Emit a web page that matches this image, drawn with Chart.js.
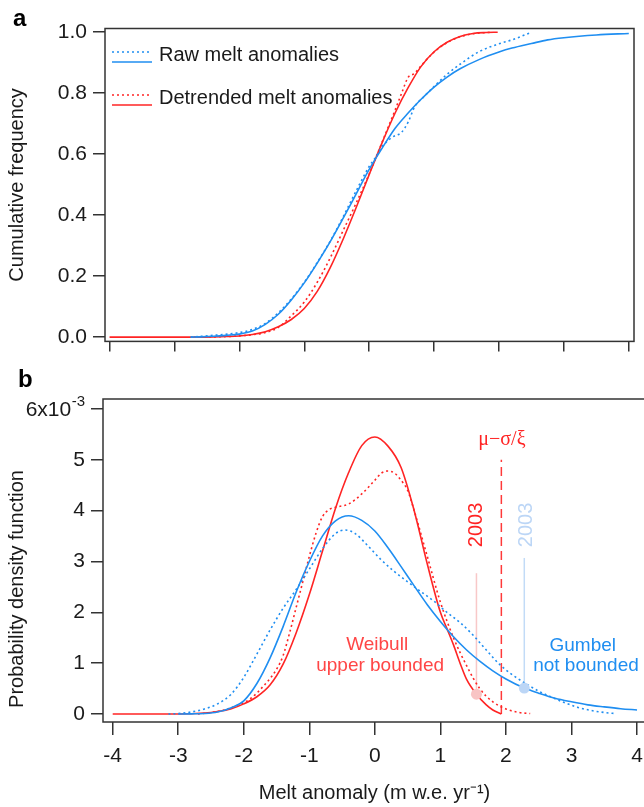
<!DOCTYPE html>
<html lang="en">
<head>
<meta charset="UTF-8" />
<title>Melt anomaly distributions</title>
<script src="https://cdn.jsdelivr.net/npm/chart.js"></script>
<style>
  html, body { margin: 0; padding: 0; background: #fff; overflow: hidden; }
  body { width: 644px; height: 807px; position: relative; }
  #cdfChart { position: absolute; left: 0; top: 0; }
  #pdfChart { position: absolute; left: 0; top: 360px; }
</style>
</head>
<body>

<canvas id="cdfChart" width="644" height="360"></canvas>
<canvas id="pdfChart" width="660" height="447"></canvas>

<script>
  const SANS = "'Liberation Sans', Arial, Helvetica, sans-serif";
  const SERIF = "'Liberation Serif', 'Times New Roman', serif";
  const INK = '#1a1a1a';
  const FRAME = '#333333';
  const BLUE = '#1f8ef1';
  const RED = '#ff2424';

  const xTicks = [-4, -3, -2, -1, 0, 1, 2, 3, 4];

  // ---- panel a : cumulative frequency ----
  const cdfTicks = [0, 0.2, 0.4, 0.6, 0.8, 1.0];
  const legendLabels = ['Raw melt anomalies', 'Detrended melt anomalies'];

  const rawFitCdfX = [-2.75, -2.6, -2.4, -2.2, -2.0, -1.8, -1.6, -1.4, -1.2, -1.0, -0.8, -0.6, -0.4, -0.2, 0, 0.2, 0.4, 0.6, 0.8, 1.0, 1.2, 1.4, 1.7, 2.0, 2.2, 2.5, 2.75, 3.0, 3.5, 4.0];
  const rawFitCdfY = [0, 0.001, 0.003, 0.006, 0.01, 0.02, 0.042, 0.075, 0.122, 0.178, 0.243, 0.313, 0.39, 0.47, 0.55, 0.62, 0.685, 0.735, 0.78, 0.82, 0.853, 0.88, 0.911, 0.935, 0.948, 0.963, 0.975, 0.982, 0.991, 0.996];

  const rawObsCdfX = [-2.75, -2.4, -2.0, -1.8, -1.6, -1.4, -1.2, -1.0, -0.8, -0.6, -0.4, -0.2, 0, 0.1, 0.2, 0.35, 0.5, 0.6, 0.7, 0.85, 1.0, 1.2, 1.4, 1.7, 2.0, 2.2, 2.5];
  const rawObsCdfY = [0, 0.006, 0.015, 0.025, 0.045, 0.08, 0.125, 0.18, 0.245, 0.315, 0.395, 0.48, 0.56, 0.59, 0.625, 0.655, 0.672, 0.705, 0.755, 0.79, 0.822, 0.862, 0.895, 0.937, 0.962, 0.975, 1.0];

  const detFitCdfX = [-4, -2.8, -2.4, -2.2, -2.0, -1.8, -1.6, -1.4, -1.2, -1.0, -0.8, -0.6, -0.4, -0.2, 0, 0.2, 0.4, 0.6, 0.8, 1.0, 1.2, 1.4, 1.6, 1.8, 1.98];
  const detFitCdfY = [0, 0, 0.001, 0.002, 0.004, 0.009, 0.018, 0.034, 0.058, 0.094, 0.15, 0.228, 0.322, 0.425, 0.533, 0.638, 0.735, 0.818, 0.888, 0.936, 0.967, 0.986, 0.996, 0.999, 1.0];

  const detObsCdfX = [-2.7, -2.2, -1.8, -1.6, -1.4, -1.2, -1.0, -0.8, -0.6, -0.4, -0.2, 0, 0.2, 0.4, 0.5, 0.6, 0.7, 0.8, 1.0, 1.2, 1.4, 1.6, 1.9];
  const detObsCdfY = [0, 0.002, 0.008, 0.015, 0.032, 0.07, 0.115, 0.18, 0.26, 0.35, 0.44, 0.535, 0.64, 0.745, 0.8, 0.852, 0.865, 0.89, 0.935, 0.966, 0.985, 0.995, 1.0];

  // ---- panel b : probability density (x10^-3) ----
  const pdfTicks = [0, 1, 2, 3, 4, 5, 6];

  const gumbelPdfX = [-3.0, -2.8, -2.6, -2.4, -2.2, -2.0, -1.8, -1.6, -1.4, -1.2, -1.0, -0.8, -0.6, -0.4, -0.2, 0, 0.2, 0.4, 0.6, 0.8, 1.0, 1.2, 1.4, 1.6, 1.8, 2.0, 2.28, 2.5, 2.75, 3.0, 3.25, 3.5, 3.75, 4.0];
  const gumbelPdfY = [0, 0.003, 0.01, 0.04, 0.12, 0.26, 0.6, 1.1, 1.72, 2.4, 3.0, 3.5, 3.8, 3.9, 3.81, 3.6, 3.27, 2.9, 2.52, 2.15, 1.82, 1.52, 1.26, 1.04, 0.85, 0.69, 0.51, 0.41, 0.31, 0.24, 0.18, 0.14, 0.105, 0.08];

  const rawKdeX = [-3.15, -3.0, -2.8, -2.6, -2.4, -2.2, -2.0, -1.8, -1.6, -1.4, -1.2, -1.0, -0.8, -0.6, -0.45, -0.3, -0.1, 0.1, 0.3, 0.5, 0.7, 0.9, 1.1, 1.3, 1.5, 1.7, 1.9, 2.1, 2.3, 2.5, 2.7, 2.9, 3.1, 3.3, 3.5, 3.67];
  const rawKdeY = [0, 0.01, 0.04, 0.1, 0.2, 0.38, 0.72, 1.18, 1.65, 2.08, 2.45, 2.85, 3.25, 3.55, 3.62, 3.55, 3.3, 3.03, 2.8, 2.6, 2.41, 2.22, 2.0, 1.8, 1.55, 1.26, 0.98, 0.77, 0.6, 0.45, 0.33, 0.22, 0.13, 0.07, 0.03, 0.01];

  const weibullPdfX = [-4, -3.0, -2.6, -2.4, -2.2, -2.0, -1.8, -1.6, -1.4, -1.2, -1.0, -0.8, -0.6, -0.4, -0.2, 0, 0.2, 0.4, 0.6, 0.8, 1.0, 1.1, 1.2, 1.3, 1.4, 1.55, 1.7, 1.8, 1.93];
  const weibullPdfY = [0, 0, 0.02, 0.05, 0.1, 0.2, 0.34, 0.57, 0.98, 1.6, 2.35, 3.2, 4.05, 4.75, 5.28, 5.45, 5.27, 4.85, 4.0, 2.95, 2.0, 1.68, 1.36, 1.0, 0.68, 0.39, 0.18, 0.08, 0];

  const detKdeX = [-2.7, -2.5, -2.3, -2.1, -1.9, -1.7, -1.5, -1.4, -1.3, -1.2, -1.1, -1.0, -0.9, -0.8, -0.7, -0.55, -0.4, -0.2, 0, 0.1, 0.2, 0.3, 0.4, 0.5, 0.6, 0.8, 1.0, 1.2, 1.4, 1.6, 1.8, 2.0, 2.2, 2.37];
  const detKdeY = [0, 0.03, 0.08, 0.17, 0.3, 0.55, 0.88, 1.15, 1.6, 2.1, 2.6, 3.1, 3.55, 3.88, 4.02, 4.08, 4.13, 4.33, 4.6, 4.74, 4.78, 4.74, 4.6, 4.4, 4.0, 3.1, 2.2, 1.5, 0.95, 0.5, 0.24, 0.1, 0.03, 0.01];

  // upper bound of the Weibull fit and the 2003 anomaly on each fit
  const boundX = [1.93, 1.93];
  const boundY = [0, 5.0];
  const weibull2003X = [1.55, 1.55];
  const weibull2003Y = [0.39, 2.77];
  const gumbel2003X = [2.28, 2.28];
  const gumbel2003Y = [0.51, 3.07];

  const pts = (xs, ys) => xs.map((x, i) => ({ x: x, y: ys[i] }));

  function curve(xs, ys, color, dotted) {
    return {
      data: pts(xs, ys),
      borderColor: color,
      borderWidth: 1.6,
      borderDash: dotted ? [2, 3] : [],
      pointRadius: 0,
      fill: false,
      cubicInterpolationMode: 'monotone'
    };
  }

  function marker(xs, ys, color) {
    return {
      data: [{ x: xs[0], y: ys[0] }],
      showLine: false,
      pointRadius: 5.5,
      pointBackgroundColor: color,
      pointBorderWidth: 0
    };
  }

  function stick(xs, ys, color, dash) {
    return {
      data: pts(xs, ys),
      borderColor: color,
      borderWidth: 1.5,
      borderDash: dash || [],
      pointRadius: 0,
      fill: false
    };
  }

  const framePlugin = {
    id: 'frame',
    afterDatasetsDraw(chart) {
      const { ctx, chartArea: a } = chart;
      ctx.save();
      ctx.strokeStyle = FRAME;
      ctx.lineWidth = 1.5;
      ctx.strokeRect(a.left, a.top, a.right - a.left, a.bottom - a.top);
      ctx.restore();
    }
  };

  function xAxis(min, max, tickLen, showLabels) {
    return {
      type: 'linear',
      position: 'bottom',
      min: min,
      max: max,
      afterBuildTicks: s => { s.ticks = xTicks.map(v => ({ value: v })); },
      border: { display: false },
      grid: { drawOnChartArea: false, tickLength: tickLen, color: FRAME, lineWidth: 1.5 },
      ticks: {
        display: showLabels,
        color: INK,
        padding: 9,
        maxRotation: 0,
        font: { family: SANS, size: 21 },
        callback: v => String(v)
      }
    };
  }

  // ---------- panel a ----------
  const cdfLegend = {
    id: 'cdfLegend',
    afterDraw(chart) {
      const ctx = chart.ctx;
      ctx.save();
      ctx.fillStyle = '#000';
      ctx.font = `bold 24px ${SANS}`;
      ctx.textBaseline = 'alphabetic';
      ctx.fillText('a', 13, 26);

      const rows = [
        { label: legendLabels[0], color: BLUE, y: 52 },
        { label: legendLabels[1], color: RED, y: 95 }
      ];
      ctx.lineWidth = 1.6;
      rows.forEach(r => {
        ctx.strokeStyle = r.color;
        ctx.setLineDash([2, 3]);
        ctx.beginPath(); ctx.moveTo(112, r.y); ctx.lineTo(152, r.y); ctx.stroke();
        ctx.setLineDash([]);
        ctx.beginPath(); ctx.moveTo(112, r.y + 10); ctx.lineTo(152, r.y + 10); ctx.stroke();
        ctx.fillStyle = INK;
        ctx.font = `20px ${SANS}`;
        ctx.textBaseline = 'middle';
        ctx.fillText(r.label, 159, r.y + 3);
      });
      ctx.restore();
    }
  };

  new Chart(document.getElementById('cdfChart'), {
    type: 'line',
    data: {
      datasets: [
        curve(rawObsCdfX, rawObsCdfY, BLUE, true),
        curve(rawFitCdfX, rawFitCdfY, BLUE, false),
        curve(detObsCdfX, detObsCdfY, RED, true),
        curve(detFitCdfX, detFitCdfY, RED, false)
      ]
    },
    options: {
      responsive: false,
      animation: false,
      devicePixelRatio: 1,
      layout: { padding: { top: 28.5, right: 10, left: 0, bottom: 0 } },
      plugins: { legend: { display: false }, tooltip: { enabled: false } },
      scales: {
        x: Object.assign(xAxis(-4.07, 4.08, 10, false), {
          afterFit: s => { s.height = 13; }
        }),
        y: {
          type: 'linear',
          min: -0.0139,
          max: 1.0122,
          afterBuildTicks: s => { s.ticks = cdfTicks.map(v => ({ value: v })); },
          afterFit: s => { s.width = 105; },
          border: { display: false },
          grid: { drawOnChartArea: false, tickLength: 12, color: FRAME, lineWidth: 1.5 },
          ticks: {
            color: INK,
            padding: 6,
            font: { family: SANS, size: 21 },
            callback: v => v.toFixed(1)
          },
          title: {
            display: true,
            text: 'Cumulative frequency',
            color: INK,
            padding: { top: 5, bottom: 0 },
            font: { family: SANS, size: 20 }
          }
        }
      }
    },
    plugins: [framePlugin, cdfLegend]
  });

  // ---------- panel b ----------
  const pdfNotes = {
    id: 'pdfNotes',
    afterDraw(chart) {
      const { ctx, scales: { x, y } } = chart;
      const px = v => x.getPixelForValue(v);
      const py = v => y.getPixelForValue(v);
      ctx.save();

      ctx.fillStyle = '#000';
      ctx.font = `bold 24px ${SANS}`;
      ctx.textBaseline = 'alphabetic';
      ctx.textAlign = 'left';
      ctx.fillText('b', 18, 27);

      // top tick label with exponent
      const labelRight = y.right - 12 - 6;
      const y6 = py(pdfTicks[pdfTicks.length - 1]);
      ctx.fillStyle = INK;
      ctx.textAlign = 'right';
      ctx.font = `15px ${SANS}`;
      ctx.fillText('-3', labelRight, y6 - 3.5);
      const supW = ctx.measureText('-3').width;
      ctx.font = `21px ${SANS}`;
      ctx.textBaseline = 'middle';
      ctx.fillText('6x10', labelRight - supW - 0.5, y6 + 1);

      // y title
      ctx.save();
      ctx.translate(17, py(2.46));
      ctx.rotate(-Math.PI / 2);
      ctx.textAlign = 'center';
      ctx.font = `20px ${SANS}`;
      ctx.fillText('Probability density function', 0, 0);
      ctx.restore();

      // fit names
      ctx.textAlign = 'center';
      ctx.textBaseline = 'middle';
      ctx.font = `19px ${SANS}`;
      ctx.fillStyle = '#ff4646';
      ctx.fillText('Weibull', px(0.035), py(1.357));
      ctx.fillText('upper bounded', px(0.08), py(0.954));
      ctx.fillStyle = BLUE;
      ctx.fillText('Gumbel', px(3.172), py(1.346));
      ctx.fillText('not bounded', px(3.221), py(0.954));

      ctx.fillStyle = RED;
      ctx.font = `20px ${SERIF}`;
      ctx.fillText('\u03bc\u2212\u03c3/\u03be', px(1.939), py(5.39));

      // 2003 labels
      [[1.557, RED], [2.31, '#bcd6f6']].forEach(([xv, col]) => {
        ctx.save();
        ctx.translate(px(xv), py(3.72));
        ctx.rotate(-Math.PI / 2);
        ctx.fillStyle = col;
        ctx.font = `20px ${SANS}`;
        ctx.fillText('2003', 0, 0);
        ctx.restore();
      });
      ctx.restore();
    }
  };

  new Chart(document.getElementById('pdfChart'), {
    type: 'line',
    data: {
      datasets: [
        marker(weibull2003X, weibull2003Y, '#f8c4c4'),
        marker(gumbel2003X, gumbel2003Y, '#bcd6f6'),
        curve(rawKdeX, rawKdeY, BLUE, true),
        curve(gumbelPdfX, gumbelPdfY, BLUE, false),
        curve(detKdeX, detKdeY, RED, true),
        curve(weibullPdfX, weibullPdfY, RED, false),
        stick(boundX, boundY, '#ff3a3a', [9, 5]),
        stick(weibull2003X, weibull2003Y, '#f8c8c8'),
        stick(gumbel2003X, gumbel2003Y, '#c2dbf7')
      ]
    },
    options: {
      responsive: false,
      animation: false,
      devicePixelRatio: 1,
      layout: { padding: { top: 39, right: 14, left: 0, bottom: 0 } },
      plugins: { legend: { display: false }, tooltip: { enabled: false } },
      scales: {
        x: Object.assign(xAxis(-4.148, 4.137, 13, true), {
          afterFit: s => { s.height = 85; },
          title: {
            display: true,
            text: 'Melt anomaly (m w.e. yr\u207b\u00b9)',
            color: INK,
            padding: { top: 0, bottom: 2 },
            font: { family: SANS, size: 20 }
          }
        }),
        y: {
          type: 'linear',
          min: -0.157,
          max: 6.197,
          afterBuildTicks: s => { s.ticks = pdfTicks.map(v => ({ value: v })); },
          afterFit: s => { s.width = 103; },
          border: { display: false },
          grid: { drawOnChartArea: false, tickLength: 12, color: FRAME, lineWidth: 1.5 },
          ticks: {
            color: INK,
            padding: 6,
            font: { family: SANS, size: 21 },
            callback: v => (v === 6 ? '' : String(v))
          }
        }
      }
    },
    plugins: [framePlugin, pdfNotes]
  });
</script>

</body>
</html>
